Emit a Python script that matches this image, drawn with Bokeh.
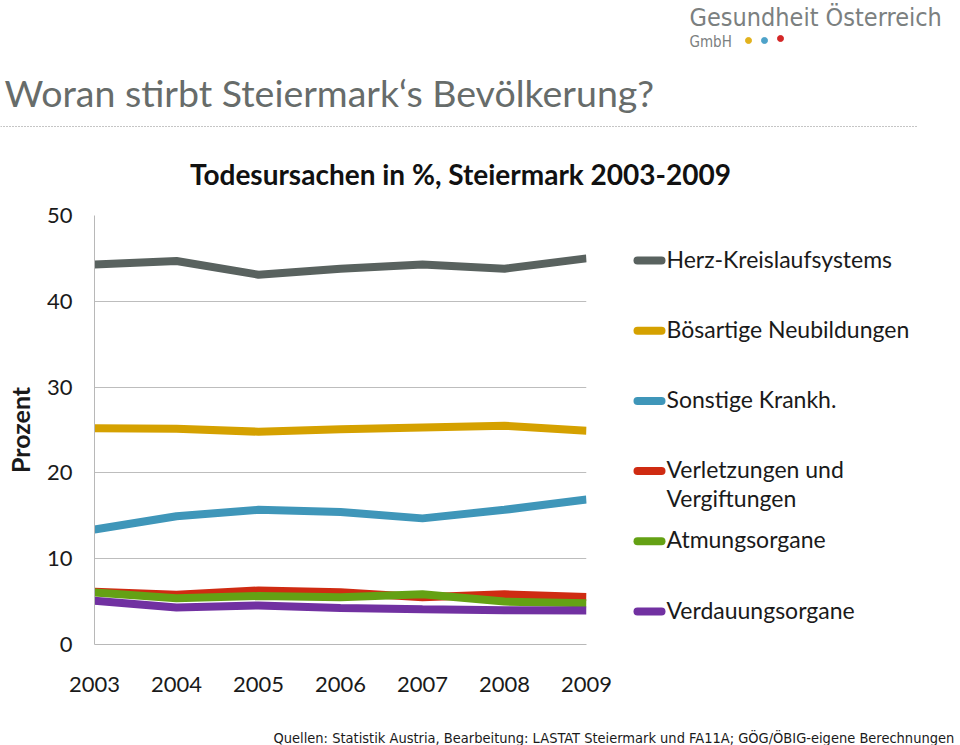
from bokeh.plotting import figure
from bokeh.layouts import column, row
from bokeh.models import FixedTicker, Range1d
from bokeh.core.properties import value
from bokeh.embed import file_html
from bokeh.resources import INLINE

# ---- data ----
years = [2003, 2004, 2005, 2006, 2007, 2008, 2009]
herz = [44.3, 44.7, 43.1, 43.8, 44.3, 43.8, 45.0]
boesartig = [25.2, 25.15, 24.8, 25.1, 25.3, 25.5, 24.9]
sonstige = [13.4, 14.95, 15.7, 15.45, 14.7, 15.7, 16.9]
verletzungen = [6.15, 5.8, 6.3, 6.1, 5.5, 5.85, 5.55]
atmung = [6.05, 5.4, 5.65, 5.5, 5.85, 5.0, 4.8]
verdauung = [5.1, 4.3, 4.55, 4.25, 4.1, 4.0, 3.95]
y_ticks = [0, 10, 20, 30, 40, 50]
series_names = ["Herz-Kreislaufsystems", "Bösartige Neubildungen", "Sonstige Krankh.",
                "Verletzungen und\nVergiftungen", "Atmungsorgane", "Verdauungsorgane"]
series_colors = ["#59625f", "#d5a100", "#3f96b9", "#cf2b12", "#64a114", "#7131a1"]
series_values = [herz, boesartig, sonstige, verletzungen, atmung, verdauung]

page_title = "Woran stirbt Steiermark\u2018s Bevölkerung?"
chart_title = "Todesursachen in %, Steiermark 2003-2009"
logo_name = "Gesundheit Österreich"
logo_sub = "GmbH"
logo_dot_colors = ["#e2b21d", "#4ea2c9", "#d42626"]
source_text = ("Quellen: Statistik Austria, Bearbeitung: LASTAT Steiermark und FA11A; "
               "GÖG/ÖBIG-eigene Berechnungen")

FONT = "Lato"
NARROW = "DejaVu Sans Condensed"
W = 960
HEADER_H, BODY_H, FOOTER_H = 200, 520, 25
MAIN_W = 620
FRAME_TOP, FRAME_BOTTOM = 215, 644           # page pixels of the plot frame
BORDER_TOP = FRAME_TOP - HEADER_H
BORDER_BOTTOM = HEADER_H + BODY_H - FRAME_BOTTOM


def blank(width, height, x0, x1, y_top, y_bottom, **kw):
    f = figure(width=width, height=height, x_range=Range1d(x0, x1),
               y_range=Range1d(y_bottom, y_top), output_backend="svg",
               toolbar_location=None, **kw)
    f.axis.visible = False
    f.grid.grid_line_color = None
    f.outline_line_color = None
    f.background_fill_color = "white"
    f.border_fill_color = "white"
    return f


# ---------------- header ----------------
hdr = blank(W, HEADER_H, 0, W, 0, HEADER_H, min_border=0)
hdr.text(x=[689], y=[17], text=[logo_name], text_font=value(NARROW), text_font_size="25px",
         text_color="#7b8080", text_baseline="middle")
hdr.text(x=[689], y=[41], text=[logo_sub], text_font=value(NARROW), text_font_size="15px",
         text_color="#7b8080", text_baseline="middle")
hdr.scatter(x=[748, 764, 780], y=[40, 40, 38], size=6, color=logo_dot_colors)
hdr.text(x=[4], y=[92], text=[page_title], text_font=value(FONT), text_font_size="37.5px",
         text_color="#676c6a", text_baseline="middle")
hdr.line(x=[0, 918], y=[126, 126], line_color="#8a8a8a", line_width=1, line_dash="1 2")
hdr.text(x=[460], y=[173], text=[chart_title], text_font=value(FONT), text_font_style="bold",
         text_font_size="28px", text_color="#111111", text_align="center", text_baseline="middle")

# ---------------- main chart ----------------
p = figure(width=MAIN_W, height=BODY_H, x_range=(years[0], years[-1]), y_range=(0, 50),
           min_border_left=94, min_border_right=34, min_border_top=BORDER_TOP,
           min_border_bottom=BORDER_BOTTOM, output_backend="svg", toolbar_location=None)
p.outline_line_color = None
p.xaxis.ticker = FixedTicker(ticks=years)
p.yaxis.ticker = FixedTicker(ticks=y_ticks)
for ax in (p.xaxis[0], p.yaxis[0]):
    ax.major_tick_line_color = None
    ax.minor_tick_line_color = None
    ax.major_tick_out = 0
    ax.major_tick_in = 0
    ax.axis_line_color = "#b8b8b8"
    ax.major_label_text_font = FONT
    ax.major_label_text_font_size = "22px"
    ax.major_label_text_color = "#1a1a1a"
p.xaxis.major_label_standoff = 32
p.yaxis.major_label_standoff = 22
p.yaxis.axis_label = "Prozent"
p.yaxis.axis_label_text_font = FONT
p.yaxis.axis_label_text_font_style = "bold"
p.yaxis.axis_label_text_font_size = "25px"
p.yaxis.axis_label_text_color = "#1a1a1a"
p.yaxis.axis_label_standoff = 9
p.xgrid.grid_line_color = None
p.ygrid.grid_line_color = "#bdbdbd"

for vals, col in zip(series_values, series_colors):
    p.line(years, vals, line_width=8, line_color=col)

# ---------------- legend ----------------
leg = blank(W - MAIN_W, BODY_H, MAIN_W, W, FRAME_TOP, FRAME_BOTTOM,
            min_border_left=0, min_border_right=0,
            min_border_top=BORDER_TOP, min_border_bottom=BORDER_BOTTOM)
n = len(series_names)
leg_y = [260 + i * 70.2 for i in range(n)]
leg.segment(x0=[637] * n, x1=[661] * n, y0=leg_y, y1=leg_y, line_color=series_colors,
            line_width=8, line_cap="round")
leg.text(x=[666] * n, y=[y - 16 for y in leg_y], text=series_names, text_font=value(FONT),
         text_font_size="23px", text_color="#1a1a1a", text_baseline="top",
         text_line_height=1.02)

# ---------------- footer ----------------
ftr = blank(W, FOOTER_H, 0, W, HEADER_H + BODY_H, HEADER_H + BODY_H + FOOTER_H, min_border=0)
ftr.text(x=[273], y=[737], text=[source_text], text_font=value(NARROW),
         text_font_size="14.5px", text_color="#1a1a1a", text_baseline="middle")

layout = column(hdr, row(p, leg, spacing=0), ftr, spacing=0)
open("out.html", "w").write(file_html(layout, INLINE))
